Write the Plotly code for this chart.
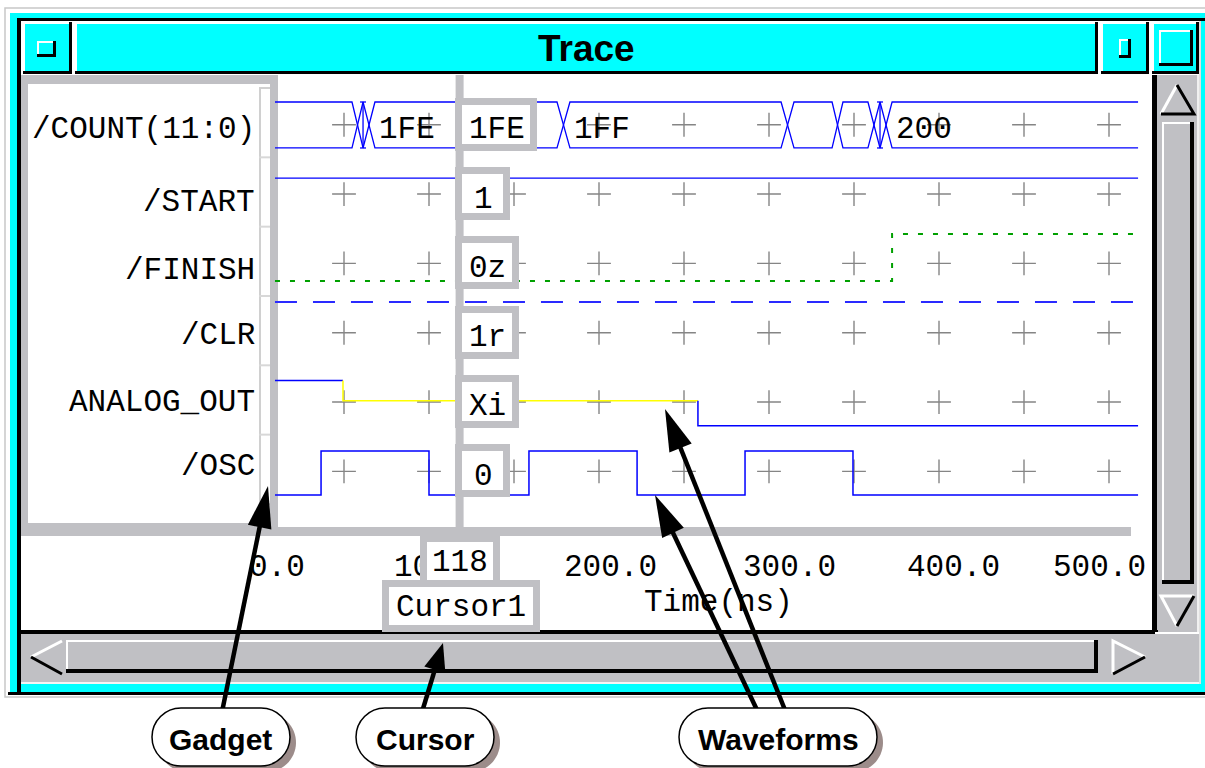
import math
import plotly.graph_objects as go

FIG_W, FIG_H = 1205, 768

# ---------------- data ----------------
SIGNAL_NAMES = ["/COUNT(11:0)", "/START", "/FINISH", "/CLR", "ANALOG_OUT", "/OSC"]
CURSOR_NAME = "Cursor1"
CURSOR_TIME = 118
CURSOR_VALUES = ["1FE", "1", "0z", "1r", "Xi", "0"]

AXIS_TICKS = [0, 100, 200, 300, 400, 500]
AXIS_TICK_TEXT = ["0.0", "100.0", "200.0", "300.0", "400.0", "500.0"]
AXIS_TITLE = "Time(ns)"
GRID_TIMES = [50, 100, 150, 200, 250, 300, 350, 400, 450, 500]

VIEW_START, VIEW_END = 9.4, 517.1

# bus /COUNT(11:0): stable segments (start, end) and their value text
COUNT_SEG_START = [9.4, 61.2, 68.2, 182.9, 314.7, 343.5, 365.3, 372.4]
COUNT_SEG_END = [54.7, 61.2, 175.3, 307.1, 337.1, 358.2, 365.3, 517.1]
COUNT_SEG_TEXT = ["", "", "1FE", "1FF", "", "", "", "200"]

START_TIMES = [9.4, 517.1]
START_BITS = [1, 1]
FINISH_TIMES = [9.4, 372.4, 517.1]
FINISH_BITS = [0, 1, 1]
CLR_TIMES = [9.4, 517.1]
CLR_BITS = [1, 1]
ANALOG_TIMES = [9.4, 49.4, 258.2, 517.1]
ANALOG_LEVELS = [0.78, 0.49, 0.13]          # fraction of row height
OSC_TIMES = [9.4, 36.5, 100.0, 158.8, 222.4, 285.9, 349.4, 517.1]
OSC_BITS = [0, 1, 0, 1, 0, 1, 0, 0]

CALLOUT_TEXT = ["Gadget", "Cursor", "Waveforms"]

# ---------------- style / layout ----------------
MONO = "Liberation Mono, Courier New, monospace"
SANS = "Liberation Sans, Arial, sans-serif"
CYAN = "#00ffff"
GRAY = "#c0c0c4"
BLUE = "#0000ff"

# screen mapping: time 0 -> px 259, 1.7 px per ns ; row k spans px 88+69.33k
X0PX, XSCALE = 259.0, 1.7
Y0PX, ROWH = 88.0, 69.33
x_range = [(0 - X0PX) / XSCALE, (FIG_W - X0PX) / XSCALE]
y_range = [(FIG_H - Y0PX) / ROWH, (0 - Y0PX) / ROWH]

# logic level placement inside each row (fraction of row height from top): (low, high)
ROW_LEVELS = {0: (0.865, 0.202), 1: (0.95, 0.30), 2: (0.784, 0.106),
              3: (0.95, 0.087), 5: (0.870, 0.236)}


def px(x):
    return x / FIG_W


def py(y):
    return 1 - y / FIG_H


shapes = []
annotations = []


def rect(x0, y0, x1, y1, fill, layer="below", line_color=None, lw=0):
    shapes.append(dict(type="rect", xref="paper", yref="paper",
                       x0=px(x0), x1=px(x1), y0=py(y1), y1=py(y0),
                       fillcolor=fill, layer=layer,
                       line=dict(width=lw, color=line_color or fill)))


def path(points, fill=None, line_color=None, lw=0, layer="below", close=True):
    d = "M" + " L".join(f"{px(x):.5f},{py(y):.5f}" for x, y in points)
    if close:
        d += " Z"
    shapes.append(dict(type="path", xref="paper", yref="paper", path=d,
                       fillcolor=fill, layer=layer,
                       line=dict(width=lw, color=line_color or "rgba(0,0,0,0)")))


def bevel(x0, y0, x1, y1, fill, lt=2, dk=3, light="white", dark="black"):
    rect(x0, y0, x1, y1, fill)
    rect(x0, y0, x1, y0 + lt, light)
    rect(x0, y0, x0 + lt, y1, light)
    rect(x0, y1 - dk, x1, y1, dark)
    rect(x1 - dk, y0, x1, y1, dark)


def mono(size=31):
    return dict(family=MONO, size=size, color="black")


# ---------------- window frame ----------------
rect(5, 8, 1230, 697, "rgba(0,0,0,0)", line_color="#c8c8c8", lw=1.5)
rect(10, 13, 1230, 692, CYAN)
rect(17, 18, 1230, 21, "black")
rect(17, 18, 21, 692, "black")
rect(8, 692, 1230, 695, "black")
rect(21, 21, 1199, 684, "white")
rect(1199, 21, 1201, 684, "#e0e0e0")

# title bar
bevel(23, 22, 72, 74, CYAN)
bevel(37, 41, 56, 57, CYAN, lt=2, dk=3)
bevel(75, 22, 1098, 74, CYAN)
bevel(1101, 22, 1149, 74, CYAN)
bevel(1119, 39, 1131, 58, CYAN, lt=2, dk=3)
bevel(1152, 22, 1199, 74, CYAN)
bevel(1159, 30, 1193, 66, CYAN, lt=2, dk=3)
annotations.append(dict(text="<b>Trace</b>", xref="paper", yref="paper",
                        x=px(586), y=py(48), xanchor="center", yanchor="middle",
                        showarrow=False, font=dict(family=SANS, size=37, color="black")))

# gadget panel
rect(21, 75, 278, 536, GRAY)
rect(28, 84, 270, 523, "white")
rect(259, 88, 261, 523, "#d0d0d0")
rect(259, 87, 270, 89, "#d0d0d0")
for k in range(1, 7):
    yb = Y0PX + ROWH * k
    rect(259, yb - 1, 270, yb + 1, "#d8d8d8")
# waveform area bottom band
rect(278, 527, 1131, 536, GRAY)

# vertical scrollbar
rect(1152, 75, 1199, 632, GRAY)
rect(1152, 75, 1157, 634, "black")
rect(1197, 75, 1199, 684, "#f0f0f0")
path([(1177, 85), (1161, 114), (1194, 114)], fill=GRAY)
path([(1177, 85), (1161, 114)], line_color="white", lw=3, close=False)
path([(1161, 114), (1194, 114), (1177, 85)], line_color="black", lw=3, close=False)
bevel(1162, 122, 1194, 584, GRAY, lt=2, dk=4)
path([(1161, 596), (1194, 596), (1177, 626)], fill=GRAY)
path([(1177, 626), (1161, 596), (1194, 596)], line_color="white", lw=3, close=False)
path([(1194, 596), (1177, 626)], line_color="black", lw=3, close=False)

# horizontal scrollbar
rect(21, 630, 1158, 634, "black")
rect(21, 634, 1199, 682, GRAY)
rect(21, 682, 1199, 684, "#f4f4f4")
path([(31, 657), (62, 641), (62, 674)], fill=GRAY)
path([(62, 641), (31, 657)], line_color="white", lw=3, close=False)
path([(31, 657), (62, 674)], line_color="black", lw=3, close=False)
bevel(66, 640, 1098, 673, GRAY, lt=2, dk=4)
path([(1145, 657), (1113, 641), (1113, 674)], fill=GRAY)
path([(1113, 674), (1113, 641), (1145, 657)], line_color="white", lw=3, close=False)
path([(1145, 657), (1113, 674)], line_color="black", lw=3, close=False)
rect(1157, 632, 1199, 682, GRAY)
rect(1155, 632, 1199, 634, "white")

# cursor bar (tied to cursor time)
shapes.append(dict(type="line", xref="x", yref="paper", x0=CURSOR_TIME, x1=CURSOR_TIME,
                   y0=py(75), y1=py(530), layer="above", line=dict(color=GRAY, width=8)))

# ---------------- traces ----------------
fig = go.Figure()

# grid crosses
gx, gy = [], []
for k in range(len(SIGNAL_NAMES)):
    for t in GRID_TIMES:
        gx.append(t)
        gy.append(k + 0.53)
fig.add_trace(go.Scatter(x=gx, y=gy, mode="markers", hoverinfo="skip",
                         marker=dict(symbol="cross-thin", size=17,
                                     line=dict(width=1.4, color="#858585"))))

# bus
hi, lo = ROW_LEVELS[0][1], ROW_LEVELS[0][0]
xa, ya, xb, yb = [], [], [], []
gl_x, gl_y = [], []
cap = 3 / XSCALE
for i, (s, e) in enumerate(zip(COUNT_SEG_START, COUNT_SEG_END)):
    la, lb = (hi, lo) if i % 2 == 0 else (lo, hi)
    xa += [s, e]
    ya += [la, la]
    xb += [s, e]
    yb += [lb, lb]
    if s == e:
        gl_x += [s, s, None, s - cap, s + cap, None, s - cap, s + cap, None]
        gl_y += [hi, lo, None, hi, hi, None, lo, lo, None]
for xs, ys in ((xa, ya), (xb, yb), (gl_x, gl_y)):
    fig.add_trace(go.Scatter(x=xs, y=ys, mode="lines", hoverinfo="skip",
                             line=dict(color=BLUE, width=1.3)))
for s, txt in zip(COUNT_SEG_START, COUNT_SEG_TEXT):
    if txt:
        annotations.append(dict(text=txt, x=s, y=0.5, xref="x", yref="y",
                                xanchor="left", yanchor="middle", xshift=2, yshift=-7,
                                showarrow=False, font=mono()))


def logic_trace(row, times, bits, color, dash=None, width=1.4):
    lo_f, hi_f = ROW_LEVELS[row]
    ys = [row + (hi_f if b else lo_f) for b in bits]
    fig.add_trace(go.Scatter(x=times, y=ys, mode="lines", line_shape="hv", hoverinfo="skip",
                             line=dict(color=color, width=width, dash=dash)))


logic_trace(1, START_TIMES, START_BITS, BLUE, width=1.3)
logic_trace(2, FINISH_TIMES, FINISH_BITS, "#00a000", dash="5px,10px", width=2)
logic_trace(3, CLR_TIMES, CLR_BITS, "#2a2aff", dash="22px,16px", width=2.2)
logic_trace(5, OSC_TIMES, OSC_BITS, BLUE, width=1.5)

# analog output: each segment coloured by its state
ANALOG_COLORS = [BLUE, "#ffff00", BLUE]
for i, lev in enumerate(ANALOG_LEVELS):
    yv = 4 + 1 - lev
    xs = [ANALOG_TIMES[i], ANALOG_TIMES[i + 1]]
    ys = [yv, yv]
    if i > 0:
        xs = [ANALOG_TIMES[i]] + xs
        ys = [4 + 1 - ANALOG_LEVELS[i - 1]] + ys
    fig.add_trace(go.Scatter(x=xs, y=ys, mode="lines", hoverinfo="skip",
                             line=dict(color=ANALOG_COLORS[i], width=1.5)))

# ---------------- text ----------------
LABEL_YSHIFT = [-7, -10, -9, -5, -3, 3]
for k, name in enumerate(SIGNAL_NAMES):
    annotations.append(dict(text=name, xref="paper", yref="y", x=px(257), y=k + 0.5,
                            xanchor="right", yanchor="middle", yshift=LABEL_YSHIFT[k],
                            showarrow=False, font=mono()))

TICK_SHIFT = [18, 11, 11, 20, 14, -10]
for t, txt, sh in zip(AXIS_TICKS, AXIS_TICK_TEXT, TICK_SHIFT):
    annotations.append(dict(text=txt, xref="x", yref="paper", x=t, y=py(567), xshift=sh,
                            xanchor="center", yanchor="middle", showarrow=False, font=mono()))
annotations.append(dict(text=AXIS_TITLE, xref="paper", yref="paper", x=px(718), y=py(602),
                        xanchor="center", yanchor="middle", showarrow=False, font=mono()))


# cursor value boxes (box first, then its text on top)
def box(x, y, xref, yref, w, h, xanchor, xshift=0, yshift=0):
    annotations.append(dict(text=" ", xref=xref, yref=yref, x=x, y=y,
                            xanchor=xanchor, yanchor="middle", xshift=xshift, yshift=yshift,
                            width=w, height=h, bgcolor="white", bordercolor=GRAY,
                            borderwidth=7, borderpad=0, showarrow=False, font=mono()))


for k, val in enumerate(CURSOR_VALUES):
    w = max(41, 12 + 18.75 * len(val))
    box(CURSOR_TIME, k + 0.5, "x", "y", w, 39, "left", xshift=-4.6, yshift=-1.5)
    annotations.append(dict(text=val, xref="x", yref="y", x=CURSOR_TIME, y=k + 0.5,
                            xanchor="center", yanchor="middle", xshift=-4.6 + 7 + w / 2 + 1,
                            yshift=-7, showarrow=False, font=mono()))

box(CURSOR_TIME, py(606), "x", "paper", 144, 38, "center", xshift=1.5)
annotations.append(dict(text=CURSOR_NAME, xref="x", yref="paper", x=CURSOR_TIME, y=py(607),
                        xanchor="center", yanchor="middle", xshift=1.5,
                        showarrow=False, font=mono()))
box(CURSOR_TIME, py(561), "x", "paper", 66, 38, "center")
annotations.append(dict(text=f"{CURSOR_TIME:d}", xref="x", yref="paper", x=CURSOR_TIME, y=py(562),
                        xanchor="center", yanchor="middle", showarrow=False, font=mono()))


# ---------------- callouts ----------------
def arrow(tail, tip, head_len=42, head_half=12, lw=4.5):
    dx, dy = tip[0] - tail[0], tip[1] - tail[1]
    L = math.hypot(dx, dy)
    ux, uy = dx / L, dy / L
    bx, by = tip[0] - ux * head_len, tip[1] - uy * head_len
    nx, ny = -uy, ux
    path([tail, (bx + ux * 4, by + uy * 4)], line_color="black", lw=lw, layer="above", close=False)
    path([tip, (bx + nx * head_half, by + ny * head_half), (bx - nx * head_half, by - ny * head_half)],
         fill="black", layer="above")


def pill(x0, y0, x1, y1, fill, line_color=None, lw=0):
    r = (y1 - y0) / 2
    yc = (y0 + y1) / 2
    k = 0.5523 * r
    P = lambda x, y: f"{px(x):.5f},{py(y):.5f}"
    d = (f"M{P(x0 + r, y0)} L{P(x1 - r, y0)} "
         f"C{P(x1 - r + k, y0)} {P(x1, yc - k)} {P(x1, yc)} "
         f"C{P(x1, yc + k)} {P(x1 - r + k, y1)} {P(x1 - r, y1)} "
         f"L{P(x0 + r, y1)} "
         f"C{P(x0 + r - k, y1)} {P(x0, yc + k)} {P(x0, yc)} "
         f"C{P(x0, yc - k)} {P(x0 + r - k, y0)} {P(x0 + r, y0)} Z")
    shapes.append(dict(type="path", xref="paper", yref="paper", path=d, fillcolor=fill,
                       layer="above", line=dict(width=lw, color=line_color or "rgba(0,0,0,0)")))


arrow((222, 712), (268, 486))
arrow((422, 712), (443, 643), head_len=28, head_half=11)
arrow((757, 710), (655, 495))
arrow((785, 710), (665, 409))

BUBBLES = [(152, 290), (356, 494), (679, 877)]
for (bx0, bx1), txt in zip(BUBBLES, CALLOUT_TEXT):
    pill(bx0 + 6, 713, bx1 + 6, 772, "#9c8c8a")
    pill(bx0, 708, bx1, 766, "white", line_color="black", lw=1.5)
    annotations.append(dict(text=f"<b>{txt}</b>", xref="paper", yref="paper",
                            x=px((bx0 + bx1) / 2), y=py(739), xanchor="center", yanchor="middle",
                            showarrow=False, font=dict(family=SANS, size=30, color="black")))

fig.update_layout(
    width=FIG_W, height=FIG_H, autosize=False,
    margin=dict(l=0, r=0, t=0, b=0, pad=0),
    paper_bgcolor="white", plot_bgcolor="rgba(0,0,0,0)",
    showlegend=False,
    xaxis=dict(range=x_range, domain=[0, 1], visible=False, fixedrange=True),
    yaxis=dict(range=y_range, domain=[0, 1], visible=False, fixedrange=True),
    shapes=shapes, annotations=annotations,
)

fig.write_html("out.html", config={"displayModeBar": False},
               post_script="document.body.style.margin='0px';document.body.style.overflow='hidden';")
